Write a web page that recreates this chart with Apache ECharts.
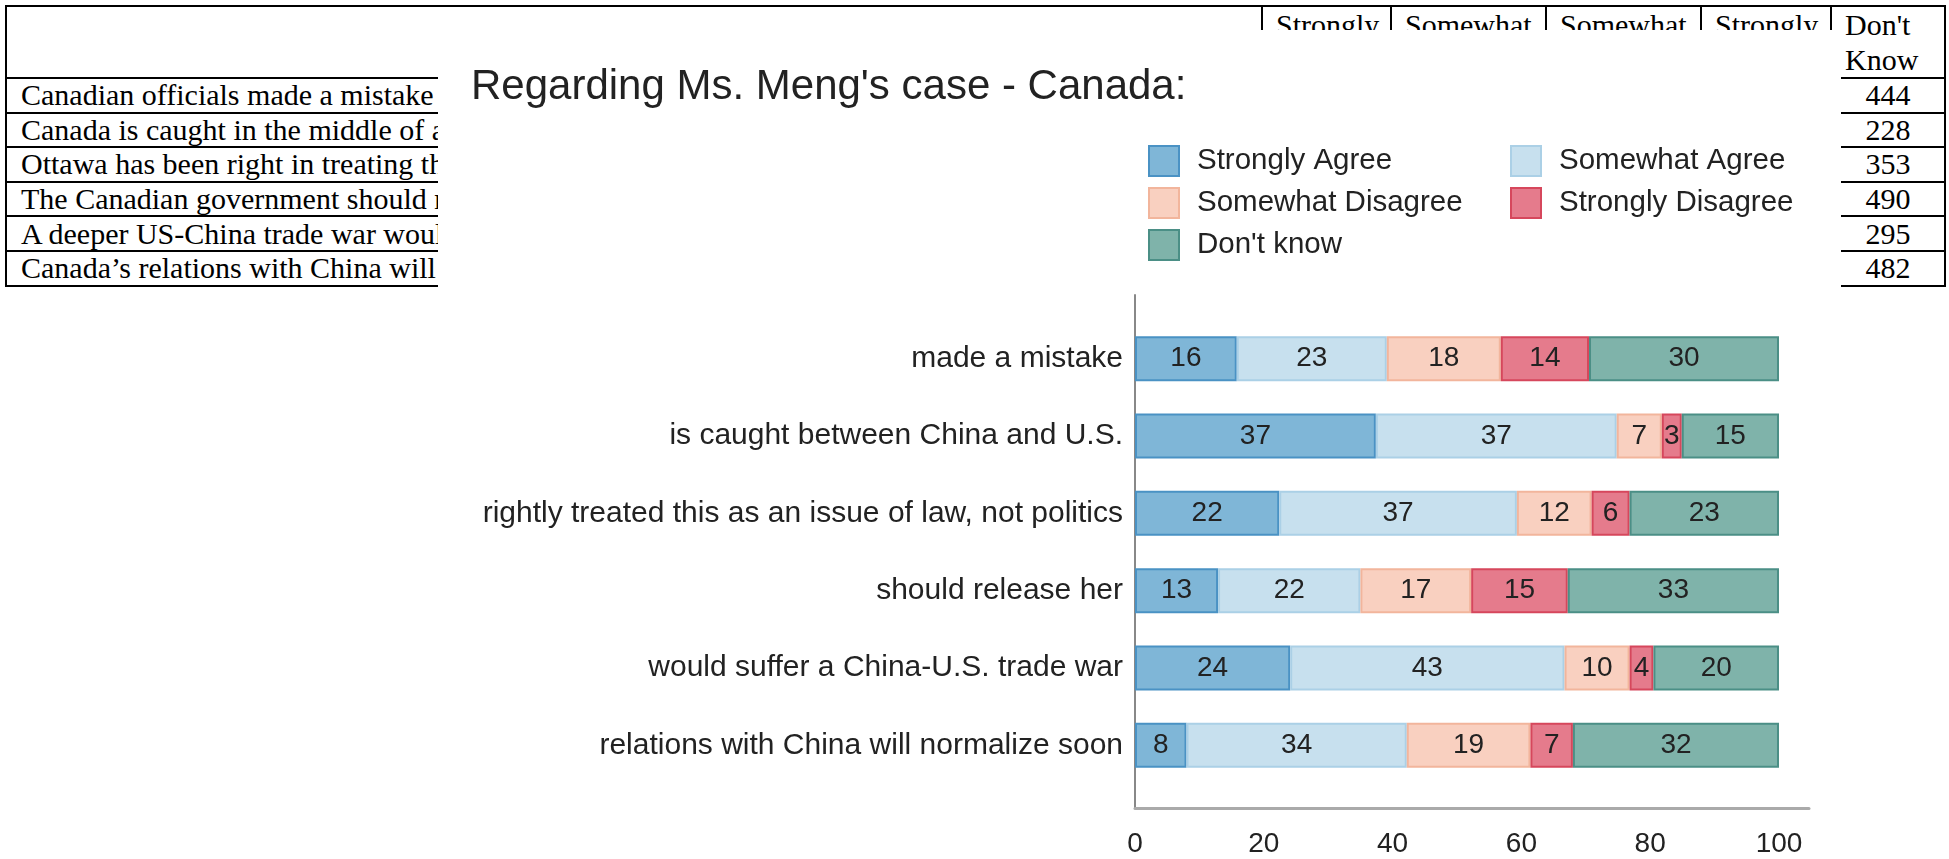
<!DOCTYPE html>
<html>
	<head>
		<meta charset="utf-8">
		<title>Regarding Ms. Meng's case - Canada</title>
		<style type="text/css">
			* {
				margin: 0;
				padding: 0;
			}
			body {
				width: 1949px;
				height: 859px;
				background: #fff;
				position: relative;
				overflow: hidden;
			}
			#tbl {
				position: absolute;
				left: 5px;
				top: 5px;
				border-collapse: collapse;
				table-layout: fixed;
				width: 1939px;
				font-family: "Liberation Serif", serif;
				font-size: 30px;
				color: #000;
			}
			#tbl th, #tbl td {
				border: 2px solid #000;
				white-space: nowrap;
				overflow: hidden;
			}
			#tbl th {
				height: 66px;
				font-weight: normal;
				text-align: left;
				vertical-align: top;
				line-height: 35px;
				padding-left: 13px;
			}
			#tbl td {
				height: 32.6px;
				line-height: 32px;
				text-align: center;
			}
			#tbl td.q {
				text-align: left;
				padding-left: 14px;
			}
			#sync {
				position: absolute;
				left: 438px;
				top: 30px;
				width: 1403px;
				height: 829px;
				background: #fff;
				z-index: 2;
			}
		</style>
		<script src="https://cdn.jsdelivr.net/npm/echarts@6/dist/echarts.min.js"></script>
	</head>
	<body>
		<table id="tbl">
			<colgroup>
				<col style="width:1256px">
				<col style="width:129px">
				<col style="width:155px">
				<col style="width:155px">
				<col style="width:130px">
				<col style="width:114px">
			</colgroup>
			<tbody id="tbody"></tbody>
		</table>
		<div id="sync"></div>
	</body>
	<script type="text/javascript">
		// 表格数据
		var tableHeads = ['', 'Strongly<br>Agree', 'Somewhat<br>Agree', 'Somewhat<br>Disagree', 'Strongly<br>Disagree', "Don't<br>Know"];
		var tableRows = [
			'Canadian officials made a mistake in arresting Ms. Meng',
			'Canada is caught in the middle of a dispute between China and the U.S.',
			'Ottawa has been right in treating this as an issue of law, not politics',
			'The Canadian government should release Ms. Meng',
			'A deeper US-China trade war would hurt Canada',
			'Canada\u2019s relations with China will normalize soon'
		];
		var dontKnowCounts = [444, 228, 353, 490, 295, 482];

		// 图表数据 (百分比)
		var categories = [
			'made a mistake',
			'is caught between China and U.S.',
			'rightly treated this as an issue of law, not politics',
			'should release her',
			'would suffer a China-U.S. trade war',
			'relations with China will normalize soon'
		];
		var stronglyAgree = [15.8, 37.4, 22.4, 12.9, 24.1, 8.0];
		var somewhatAgree = [23.3, 37.4, 36.9, 22.1, 42.6, 34.2];
		var somewhatDisagree = [17.7, 7.0, 11.6, 17.2, 10.1, 19.2];
		var stronglyDisagree = [13.7, 3.1, 5.9, 15.0, 3.7, 6.6];
		var dontKnow = [29.5, 15.1, 23.2, 32.8, 19.5, 32.0];
		var xTicks = [0, 20, 40, 60, 80, 100];

		// 画表格
		var html = '<tr>';
		for (var i = 0; i < tableHeads.length; i++) {
			html += '<th>' + tableHeads[i] + '</th>';
		}
		html += '</tr>';
		for (var r = 0; r < tableRows.length; r++) {
			html += '<tr><td class="q">' + tableRows[r] + '</td><td></td><td></td><td></td><td></td><td>' + dontKnowCounts[r] + '</td></tr>';
		}
		document.getElementById('tbody').innerHTML = html;

		var font = 'Liberation Sans';
		var syncChart = echarts.init(document.getElementById('sync'));

		function makeSeries(name, data, fill, border) {
			return {
				name: name,
				type: 'bar',
				stack: 'all',
				xAxisIndex: 0,
				yAxisIndex: 0,
				barWidth: 45,
				data: data,
				itemStyle: {
					color: fill,
					borderColor: border,
					borderWidth: 2
				},
				label: {
					show: true,
					position: 'inside',
					fontFamily: font,
					fontSize: 28,
					color: '#222',
					formatter: function(p) {
						return Math.round(p.value);
					}
				}
			};
		}

		var legendText = {
			fontFamily: font,
			fontSize: 29.5,
			lineHeight: 30,
			color: '#222',
			padding: [0, 0, 0, 13]
		};

		var option = {
			animation: false,
			backgroundColor: '#fff',
			title: {
				text: "Regarding Ms. Meng's case - Canada:",
				left: 33,
				top: 36,
				padding: 0,
				textStyle: {
					fontFamily: font,
					fontSize: 42,
					fontWeight: 'normal',
					color: '#222'
				}
			},
			legend: [{
				data: ['Strongly Agree', 'Somewhat Disagree', "Don't know"],
				orient: 'vertical',
				left: 710,
				top: 115,
				padding: 0,
				icon: 'rect',
				itemWidth: 30,
				itemHeight: 30,
				itemGap: 10,
				textStyle: legendText
			}, {
				data: ['Somewhat Agree', 'Strongly Disagree'],
				orient: 'vertical',
				left: 1072,
				top: 115,
				padding: 0,
				icon: 'rect',
				itemWidth: 30,
				itemHeight: 30,
				itemGap: 10,
				textStyle: legendText
			}],
			grid: [{
				left: 697,
				right: 32,
				top: 290,
				bottom: 75
			}, {
				left: 697,
				right: 32,
				top: 265,
				bottom: 51
			}],
			xAxis: [{
				gridIndex: 0,
				type: 'value',
				min: 0,
				max: 104.66,
				show: false
			}, {
				gridIndex: 1,
				type: 'value',
				min: xTicks[0],
				max: 104.66,
				interval: xTicks[1] - xTicks[0],
				axisLine: {
					show: true,
					onZero: false,
					lineStyle: { color: '#aaa', width: 3 }
				},
				axisTick: { show: false },
				splitLine: { show: false },
				axisLabel: {
					showMaxLabel: false,
					margin: 22,
					fontFamily: font,
					fontSize: 28,
					color: '#222',
					formatter: function(v) {
						return xTicks.indexOf(v) >= 0 ? v : '';
					}
				}
			}],
			yAxis: [{
				gridIndex: 0,
				type: 'category',
				data: categories,
				inverse: true,
				axisLine: { show: false },
				axisTick: { show: false },
				axisLabel: {
					margin: 12,
					fontFamily: font,
					fontSize: 30,
					color: '#222'
				}
			}, {
				gridIndex: 1,
				type: 'value',
				min: 0,
				max: 1,
				axisLine: {
					show: true,
					onZero: false,
					lineStyle: { color: '#888', width: 2 }
				},
				axisTick: { show: false },
				axisLabel: { show: false },
				splitLine: { show: false }
			}],
			series: [
				makeSeries('Strongly Agree', stronglyAgree, '#7fb6d7', '#4a92c4'),
				makeSeries('Somewhat Agree', somewhatAgree, '#c7e0ee', '#abd0e6'),
				makeSeries('Somewhat Disagree', somewhatDisagree, '#f9d0c0', '#f2b59c'),
				makeSeries('Strongly Disagree', stronglyDisagree, '#e57b8c', '#d6475c'),
				makeSeries("Don't know", dontKnow, '#7fb3aa', '#4b8f86')
			]
		};
		syncChart.setOption(option);
	</script>
</html>
